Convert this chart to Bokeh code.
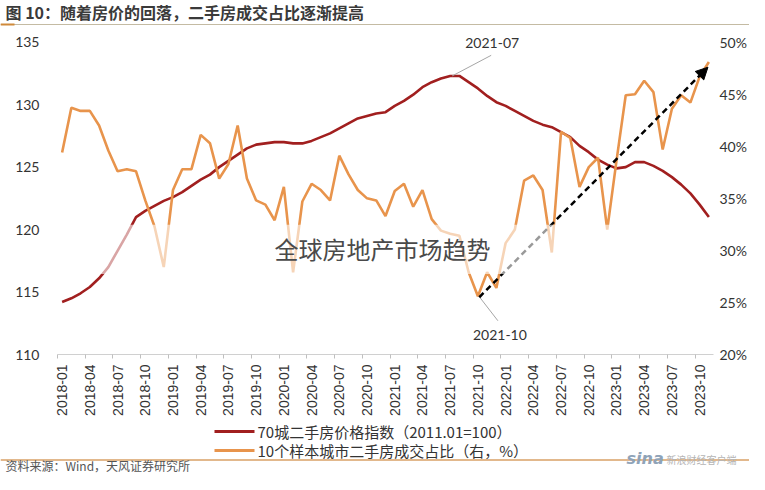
import math
from bokeh.plotting import figure
from bokeh.layouts import column
from bokeh.models import (ColumnDataSource, Range1d, LinearAxis, FixedTicker,
                          PrintfTickFormatter, Label, Arrow, NormalHead, BoxAnnotation)
from bokeh.embed import file_html
from bokeh.resources import INLINE

# ---------------- data ----------------
months = [f"{y}-{m:02d}" for y in range(2018, 2024) for m in range(1, 13)][:71]
tick_labels = ["2018-01", "2018-04", "2018-07", "2018-10", "2019-01", "2019-04", "2019-07", "2019-10",
               "2020-01", "2020-04", "2020-07", "2020-10", "2021-01", "2021-04", "2021-07", "2021-10",
               "2022-01", "2022-04", "2022-07", "2022-10", "2023-01", "2023-04", "2023-07", "2023-10"]

# 70城二手房价格指数（2011.01=100）
price_index = [114.2, 114.5, 114.9, 115.4, 116.1, 117.0, 118.3, 119.6, 121.0, 121.5,
               121.9, 122.3, 122.6, 123.0, 123.5, 124.0, 124.4, 125.0, 125.5, 126.0,
               126.5, 126.8, 126.9, 127.0, 127.0, 126.9, 126.9, 127.1, 127.4, 127.7,
               128.1, 128.5, 128.9, 129.1, 129.3, 129.4, 129.9, 130.3, 130.8, 131.4,
               131.8, 132.1, 132.3, 132.3, 131.8, 131.3, 130.7, 130.2, 129.9, 129.5,
               129.1, 128.7, 128.4, 128.2, 127.8, 127.4, 126.7, 126.2, 125.6, 125.2,
               124.9, 125.0, 125.4, 125.4, 125.1, 124.7, 124.2, 123.6, 122.9, 122.0,
               121.0]

# 10个样本城市二手房成交占比（右，%）
deal_share = [39.4, 43.7, 43.4, 43.4, 42.0, 39.6, 37.6, 37.8, 37.6, 34.8,
              32.3, 28.4, 35.8, 37.8, 37.8, 41.1, 40.3, 36.9, 38.3, 42.0,
              36.9, 34.8, 34.4, 32.9, 36.1, 27.9, 34.7, 36.4, 35.8, 34.8,
              39.1, 37.3, 35.8, 35.0, 34.8, 33.3, 35.7, 36.4, 34.2, 35.8,
              33.0, 31.9, 31.6, 31.4, 27.9, 25.6, 27.9, 26.4, 30.7, 32.0,
              36.7, 37.2, 35.8, 29.8, 41.4, 40.8, 36.1, 38.0, 38.9, 32.0,
              38.6, 44.9, 45.0, 46.3, 45.2, 39.7, 43.6, 44.9, 44.2, 46.7,
              48.1]

peak_month = "2021-07"
trough_month = "2021-10"
trend_months = ["2021-10", "2023-11"]
trend_share = [25.5, 47.6]

left_ticks = [110, 115, 120, 125, 130, 135]
right_ticks = [20, 25, 30, 35, 40, 45, 50]

title_text = "图 10：随着房价的回落，二手房成交占比逐渐提高"
legend_price = "70城二手房价格指数（2011.01=100）"
legend_share = "10个样本城市二手房成交占比（右，%）"
source_text = "资料来源：Wind，天风证券研究所"
watermark_text = "全球房地产市场趋势"

# ---------------- layout (page pixel coordinates) ----------------
W = 749
TOP_H, MAIN_H, BOT_H = 26, 392, 56
FX0, FX1 = 57, 713            # frame left / right
FY_TOP_TICK, FY1 = 42, 360    # y of top tick (135 / 50%) and frame bottom
MAIN_Y0 = TOP_H               # page y where main figure starts
HEAD = FY_TOP_TICK - MAIN_Y0  # frame headroom above the top tick

x_lo, x_hi = -0.5, len(months) - 0.5
PX_X = (FX1 - FX0) / (x_hi - x_lo)
PX_YL = (FY1 - FY_TOP_TICK) / (left_ticks[-1] - left_ticks[0])
PX_YR = (FY1 - FY_TOP_TICK) / (right_ticks[-1] - right_ticks[0])


def X(px):
    return x_lo + (px - FX0) / PX_X


def Y(py):
    return left_ticks[-1] - (py - FY_TOP_TICK) / PX_YL


RED = "#a11f1f"
ORANGE = "#e8944c"
TXT = "#333333"
CJK = "Noto Sans CJK SC"

# ---------------- top strip: title + rule ----------------
top = figure(width=W, height=TOP_H, output_backend="svg", toolbar_location=None,
             x_range=Range1d(0, W), y_range=Range1d(TOP_H, 0),
             x_axis_type=None, y_axis_type=None, min_border=0, frame_align=False)
top.outline_line_color = None
top.grid.visible = False
top.add_layout(Label(x=5, y=11.5, text=title_text, text_align="left", text_baseline="middle",
                     text_font=CJK, text_font_size="16px", text_font_style="bold",
                     text_color="#3a3a3a"))
top.segment(x0=[0], y0=[24], x1=[W], y1=[24], line_color="#c4bba3", line_width=1.2)
top.segment(x0=[0], y0=[24], x1=[14], y1=[24], line_color="#d08a3a", line_width=2)

# ---------------- main chart ----------------
xs = list(range(len(months)))
src = ColumnDataSource(dict(x=xs, price=price_index, share=deal_share))

p = figure(width=W, height=MAIN_H, output_backend="svg", toolbar_location=None,
           x_range=Range1d(x_lo, x_hi),
           y_range=Range1d(left_ticks[0], left_ticks[-1] + HEAD / PX_YL),
           min_border_left=FX0, min_border_right=W - FX1, min_border_top=0,
           min_border_bottom=MAIN_H - (FY1 - MAIN_Y0), title=None, frame_align=False)
p.extra_y_ranges = {"share": Range1d(right_ticks[0], right_ticks[-1] + HEAD / PX_YR)}
p.outline_line_color = None
p.xgrid.visible = False
p.ygrid.visible = False

tick_pos = [months.index(t) for t in tick_labels]
p.xaxis.ticker = FixedTicker(ticks=tick_pos, minor_ticks=[t - 0.5 for t in tick_pos])
p.xaxis.major_label_overrides = {t: lab for t, lab in zip(tick_pos, tick_labels)}
p.xaxis.major_label_orientation = math.pi / 2
p.xaxis.axis_line_color = "#d0d0d0"
p.xaxis.major_tick_line_color = None
p.xaxis.major_tick_out = 0
p.xaxis.major_tick_in = 0
p.xaxis.minor_tick_line_color = "#bfbfbf"
p.xaxis.minor_tick_in = 0
p.xaxis.minor_tick_out = 4
p.xaxis.major_label_standoff = 6
p.xaxis.major_label_text_font = "Liberation Sans"
p.xaxis.major_label_text_font_size = "14px"
p.xaxis.major_label_text_color = TXT

p.yaxis.ticker = FixedTicker(ticks=left_ticks)
p.yaxis.axis_line_color = None
p.yaxis.major_tick_line_color = None
p.yaxis.major_tick_out = 0
p.yaxis.minor_tick_line_color = None
p.yaxis.major_label_standoff = 18
p.yaxis.major_label_text_font = "Lato"
p.yaxis.major_label_text_font_size = "14px"
p.yaxis.major_label_text_color = TXT

ra = LinearAxis(y_range_name="share", ticker=FixedTicker(ticks=right_ticks),
                formatter=PrintfTickFormatter(format="%d%%"))
ra.axis_line_color = None
ra.major_tick_line_color = None
ra.major_tick_out = 0
ra.minor_tick_line_color = None
ra.major_label_standoff = 6
ra.major_label_text_font = "Lato"
ra.major_label_text_font_size = "14px"
ra.major_label_text_color = TXT
p.add_layout(ra, "right")

p.line("x", "price", source=src, line_color=RED, line_width=2.6)
p.line("x", "share", source=src, y_range_name="share", line_color=ORANGE, line_width=2.6)

# annotation 2021-07 (peak of price index)
pk = months.index(peak_month)
pv = price_index[pk]
p.segment(x0=[pk + 2 / PX_X], y0=[pv], x1=[pk + 41 / PX_X], y1=[pv + 21 / PX_YL],
          line_color="#a6a6a6", line_width=1)
p.add_layout(Label(x=pk + 42 / PX_X, y=pv + 34 / PX_YL, text=peak_month,
                   text_align="center", text_baseline="middle", text_font="Lato",
                   text_font_size="14px", text_color=TXT))

# annotation 2021-10 (trough of share)
tk = months.index(trough_month)
tv = deal_share[tk]
p.segment(x0=[tk + 1 / PX_X], y0=[tv], x1=[tk + 20 / PX_X], y1=[tv - 25 / PX_YR],
          y_range_name="share", line_color="#a6a6a6", line_width=1)
p.add_layout(Label(x=tk + 22 / PX_X, y=tv - 40 / PX_YR, text=trough_month, y_range_name="share",
                   text_align="center", text_baseline="middle", text_font="Lato",
                   text_font_size="14px", text_color=TXT))

# dashed trend arrow
p.add_layout(Arrow(x_start=months.index(trend_months[0]) + 0.15, y_start=trend_share[0],
                   x_end=months.index(trend_months[1]) - 0.1, y_end=trend_share[1],
                   y_range_name="share", line_color="black", line_width=2.5, line_dash="6 4",
                   end=NormalHead(size=12, fill_color="black", line_color="black")))

# translucent watermark band + text
p.add_layout(BoxAnnotation(bottom=Y(278), top=Y(228), fill_color="white", fill_alpha=0.6,
                           line_color=None))
p.add_layout(Label(x=X(382), y=Y(252), text=watermark_text, text_align="center",
                   text_baseline="middle", text_font=CJK, text_font_size="24px",
                   text_color="#4a4a4a"))

# ---------------- bottom strip: legend, rule, source ----------------
bot = figure(width=W, height=BOT_H, output_backend="svg", toolbar_location=None,
             x_range=Range1d(0, W), y_range=Range1d(BOT_H, 0),
             x_axis_type=None, y_axis_type=None, min_border=0, frame_align=False)
bot.outline_line_color = None
bot.grid.visible = False
for yy, col, txt in [(13, RED, legend_price), (32, ORANGE, legend_share)]:
    bot.segment(x0=[214], y0=[yy], x1=[254], y1=[yy], line_color=col, line_width=3)
    bot.add_layout(Label(x=257, y=yy, text=txt, text_align="left", text_baseline="middle",
                         text_font=CJK, text_font_size="15px", text_color=TXT))
bot.segment(x0=[0], y0=[41.5], x1=[W], y1=[41.5], line_color="#d9a066", line_width=1.5)
bot.add_layout(Label(x=5, y=47, text=source_text, text_align="left", text_baseline="middle",
                     text_font=CJK, text_font_size="12px", text_color="#555555"))
bot.add_layout(Label(x=626, y=40, text="sina", text_align="left", text_baseline="middle",
                     text_font="DejaVu Sans", text_font_size="16px", text_font_style="bold italic",
                     text_color="#8fa3b8"))
bot.add_layout(Label(x=666, y=41, text="新浪财经客户端", text_align="left",
                     text_baseline="middle", text_font=CJK, text_font_size="10px",
                     text_color="#b5b5b5"))

layout = column(top, p, bot, spacing=0)
open("out.html", "w").write(file_html(layout, INLINE))
